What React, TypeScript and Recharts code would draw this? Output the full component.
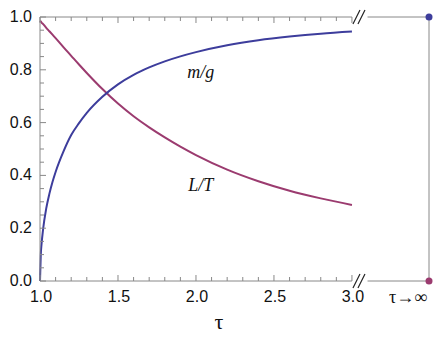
import {
  ComposedChart,
  Line,
  XAxis,
  YAxis,
  ReferenceLine,
  ReferenceDot,
  Customized,
} from 'recharts'

// τ sample points and the two ratios
const tau = [
  1.0, 1.005, 1.01, 1.02, 1.04, 1.06, 1.08, 1.1, 1.15, 1.2, 1.25, 1.3, 1.4, 1.5,
  1.6, 1.7, 1.8, 1.9, 2.0, 2.2, 2.4, 2.6, 2.8, 3.0,
]
const mg = [
  0, 0.1, 0.14, 0.197, 0.275, 0.33, 0.375, 0.413, 0.49, 0.553, 0.598, 0.637, 0.698,
  0.745, 0.781, 0.809, 0.832, 0.851, 0.867, 0.893, 0.912, 0.926, 0.937, 0.945,
]
const lt = [
  0.986, 0.983, 0.979, 0.973, 0.959, 0.946, 0.933, 0.92, 0.886, 0.853, 0.82, 0.788,
  0.727, 0.672, 0.624, 0.582, 0.544, 0.509, 0.477, 0.422, 0.378, 0.342, 0.313, 0.288,
]

// limits as τ → ∞
const mgLimit = 1
const ltLimit = 0

const xMajorTicks = [1, 1.5, 2, 2.5, 3]
const xMinorTicks = [1.1, 1.2, 1.3, 1.4, 1.6, 1.7, 1.8, 1.9, 2.1, 2.2, 2.3, 2.4, 2.6, 2.7, 2.8, 2.9]
const yMajorTicks = [0, 0.2, 0.4, 0.6, 0.8, 1]
const yMinorTicks = [0.05, 0.1, 0.15, 0.25, 0.3, 0.35, 0.45, 0.5, 0.55, 0.65, 0.7, 0.75, 0.85, 0.9, 0.95]

// axis position standing in for τ→∞, and the broken-axis gap
const TAU_INF = 3.494
const BREAK_AT = 3.045
const GAP_END = 3.1

const BLUE = '#3d3d9c'
const PURPLE = '#9b3b6f'
const AXIS = '#888888'
const SANS = '"Liberation Sans", Arial, sans-serif'
const SERIF = '"Liberation Serif", "Times New Roman", serif'

const data = tau.map((t, i) => ({ tau: t, mg: mg[i], lt: lt[i] }))

const BottomTick = (p: any) => {
  const v = p.payload.value
  if (v === TAU_INF) {
    return (
      <text x={p.x - 21} y={p.y + 22} textAnchor="middle" fontFamily={SERIF} fontSize={18} fill="#111">
        τ→∞
      </text>
    )
  }
  const major = xMajorTicks.includes(v)
  return (
    <g>
      <line x1={p.x} x2={p.x} y1={p.y} y2={p.y - (major ? 6 : 4)} stroke={AXIS} />
      {major && (
        <text x={p.x + 1} y={p.y + 21} textAnchor="middle" fontFamily={SANS} fontSize={16} fill="#111">
          {v.toFixed(1)}
        </text>
      )}
    </g>
  )
}

const TopTick = (p: any) => {
  const v = p.payload.value
  const major = xMajorTicks.includes(v)
  return <line x1={p.x} x2={p.x} y1={p.y} y2={p.y + (major ? 6 : 4)} stroke={AXIS} />
}

const LeftTick = (p: any) => {
  const v = p.payload.value
  const major = yMajorTicks.includes(v)
  return (
    <g>
      <line x1={p.x} x2={p.x + (major ? 6 : 4)} y1={p.y} y2={p.y} stroke={AXIS} />
      {major && (
        <text x={p.x - 8} y={p.y + 5} textAnchor="end" fontFamily={SANS} fontSize={16} fill="#111">
          {v.toFixed(1)}
        </text>
      )}
    </g>
  )
}

const RightTick = (p: any) => {
  const major = yMajorTicks.includes(p.payload.value)
  return <line x1={p.x} x2={p.x - (major ? 6 : 4)} y1={p.y} y2={p.y} stroke={AXIS} />
}

const BreakMark = (p: any) => (
  <g stroke="#222" strokeWidth={1.2}>
    <line x1={p.cx - 6} y1={p.cy + 7} x2={p.cx + 1} y2={p.cy - 7} />
    <line x1={p.cx - 1} y1={p.cy + 7} x2={p.cx + 6} y2={p.cy - 7} />
  </g>
)

const CurveLabel = (text: string) => (p: any) => (
  <text x={p.cx} y={p.cy} textAnchor="middle" dominantBaseline="central" fontFamily={SERIF} fontStyle="italic" fontSize={18} fill="#111">
    {text}
  </text>
)

const AxisTitle = () => (
  <text x={219} y={329} textAnchor="middle" fontFamily={SERIF} fontSize={22} fill="#111">
    τ
  </text>
)

export default function App() {
  return (
    <div style={{ position: 'absolute', left: 0, top: 0, background: '#fff' }}>
      <ComposedChart
        width={442}
        height={340}
        data={data}
        margin={{ top: 16, right: 12, bottom: 58, left: 39 }}
      >
        <XAxis
          dataKey="tau"
          type="number"
          domain={[1, TAU_INF]}
          ticks={[...xMajorTicks, ...xMinorTicks, TAU_INF]}
          interval={0}
          height={1}
          tickSize={0}
          tickMargin={0}
          tickLine={false}
          axisLine={false}
          tick={(p: any) => <BottomTick {...p} />}
        />
        <XAxis
          xAxisId="top"
          orientation="top"
          dataKey="tau"
          type="number"
          domain={[1, TAU_INF]}
          ticks={[...xMajorTicks, ...xMinorTicks]}
          interval={0}
          height={1}
          tickSize={0}
          tickMargin={0}
          tickLine={false}
          axisLine={false}
          tick={(p: any) => <TopTick {...p} />}
        />
        <YAxis
          type="number"
          domain={[0, 1]}
          ticks={[...yMajorTicks, ...yMinorTicks]}
          interval={0}
          width={1}
          tickSize={0}
          tickMargin={0}
          tickLine={false}
          axisLine={{ stroke: AXIS }}
          tick={(p: any) => <LeftTick {...p} />}
        />
        <YAxis
          yAxisId="right"
          orientation="right"
          type="number"
          domain={[0, 1]}
          ticks={[...yMajorTicks, ...yMinorTicks]}
          interval={0}
          width={1}
          tickSize={0}
          tickMargin={0}
          tickLine={false}
          axisLine={{ stroke: AXIS }}
          tick={(p: any) => <RightTick {...p} />}
        />

        {/* broken top and bottom frame */}
        <ReferenceLine segment={[{ x: 1, y: 0 }, { x: 3, y: 0 }]} stroke={AXIS} ifOverflow="visible" />
        <ReferenceLine segment={[{ x: GAP_END, y: 0 }, { x: TAU_INF, y: 0 }]} stroke={AXIS} ifOverflow="visible" />
        <ReferenceLine segment={[{ x: 1, y: 1 }, { x: 3, y: 1 }]} stroke={AXIS} ifOverflow="visible" />
        <ReferenceLine segment={[{ x: GAP_END, y: 1 }, { x: TAU_INF, y: 1 }]} stroke={AXIS} ifOverflow="visible" />
        <ReferenceDot x={BREAK_AT} y={0} ifOverflow="visible" shape={BreakMark} />
        <ReferenceDot x={BREAK_AT} y={1} ifOverflow="visible" shape={BreakMark} />

        <Line
          type="monotone"
          dataKey="lt"
          stroke={PURPLE}
          strokeWidth={2}
          dot={false}
          activeDot={false}
          isAnimationActive={false}
        />
        <Line
          type="monotone"
          dataKey="mg"
          stroke={BLUE}
          strokeWidth={2}
          dot={false}
          activeDot={false}
          isAnimationActive={false}
        />

        <ReferenceDot x={TAU_INF} y={mgLimit} r={3.5} fill={BLUE} stroke="none" ifOverflow="visible" />
        <ReferenceDot x={TAU_INF} y={ltLimit} r={3.5} fill={PURPLE} stroke="none" ifOverflow="visible" />

        <ReferenceDot x={2.03} y={0.79} ifOverflow="visible" shape={CurveLabel('m/g')} />
        <ReferenceDot x={2.03} y={0.364} ifOverflow="visible" shape={CurveLabel('L/T')} />

        <Customized component={AxisTitle} />
      </ComposedChart>
    </div>
  )
}
